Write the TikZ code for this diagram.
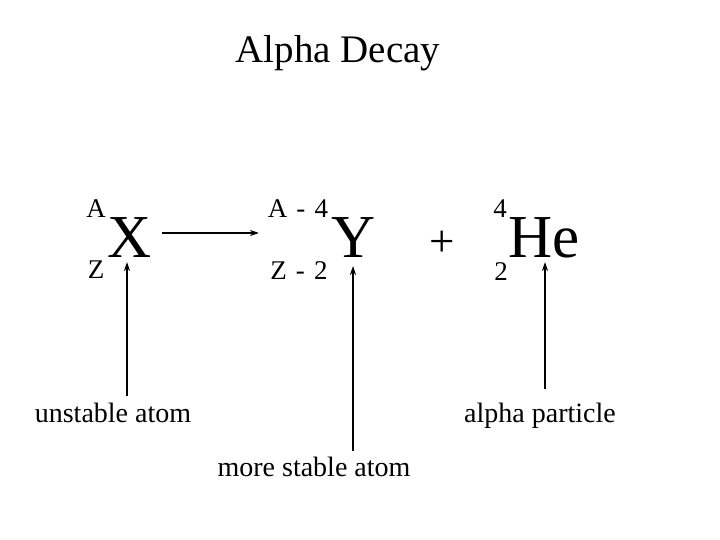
\documentclass[tikz,border=0pt]{standalone}
\usepackage{fontspec}
\setmainfont{Liberation Serif}
\usetikzlibrary{arrows.meta}
\tikzset{
  big/.style={inner sep=0pt, anchor=base, font=\fontsize{61}{61}\selectfont},
  small/.style={inner sep=0pt, anchor=base, font=\fontsize{27}{27}\selectfont},
  label/.style={inner sep=0pt, anchor=base, font=\fontsize{28}{28}\selectfont},
  ptr/.style={line width=1.6pt, -{Stealth[length=9pt,width=6pt]}}
}
\begin{document}
\begin{tikzpicture}[x=1pt,y=-1pt]
\useasboundingbox (0,0) rectangle (720,540);
\node[inner sep=0pt, anchor=base, font=\fontsize{39}{39}\selectfont] (title) at (338,63) {Alpha Decay};
% X
\node[big] (X) at (130,258) {X};
\node[small] (XA) at (96,218) {A};
\node[small] (XZ) at (96,278) {Z};
% Y
\node[big] (Y) at (354,258) {Y};
\node[small] (YA) at (298,218) {A\hspace{2.5pt} - \hspace{2.5pt}4};
\node[small] (YZ) at (299,279) {Z\hspace{2.5pt} - \hspace{2.5pt}2};
% plus
\node[inner sep=0pt, font=\fontsize{45}{45}\selectfont] (plus) at (442,244) {+};
% He
\node[big] (He) at (544,258) {He};
\node[small] (H4) at (500,218) {4};
\node[small] (H2) at (501,280) {2};
% reaction arrow
\coordinate (r1) at (162,233);
\coordinate (r2) at (259,233);
\draw[ptr] (r1) -- (r2);
% labels
\node[label] (l1) at (113,422) {unstable atom};
\node[label] (l2) at (314,476) {more stable atom};
\node[label] (l3) at (540,422) {alpha particle};
\coordinate (a1) at (127,396);
\coordinate (a1t) at (127,262);
\coordinate (a2) at (353,451);
\coordinate (a2t) at (353,266);
\coordinate (a3) at (545,389);
\coordinate (a3t) at (545,262);
\draw[ptr] (a1) -- (a1t);
\draw[ptr] (a2) -- (a2t);
\draw[ptr] (a3) -- (a3t);
\end{tikzpicture}
\end{document}
